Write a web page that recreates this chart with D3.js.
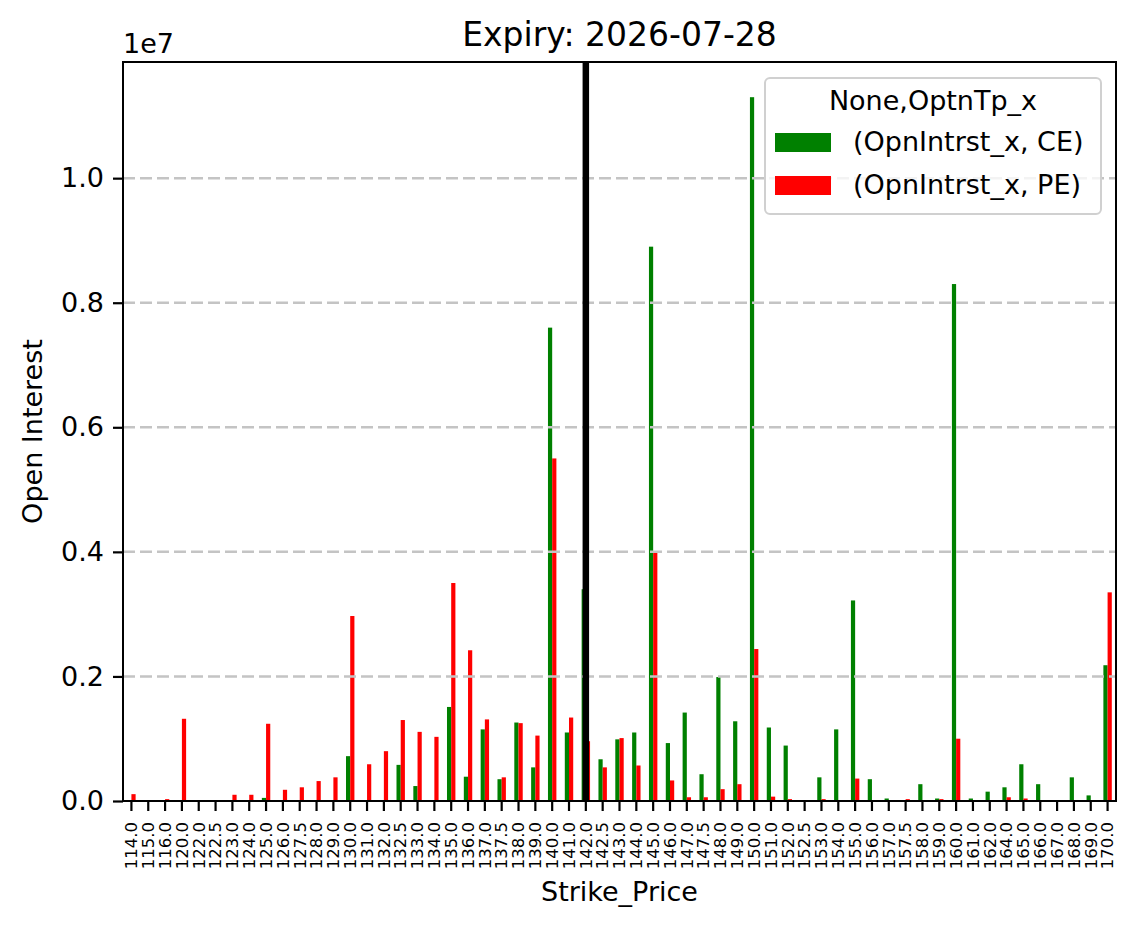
<!DOCTYPE html>
<html>
<head>
<meta charset="utf-8">
<script src="https://cdn.jsdelivr.net/npm/d3@7"></script>
<style>
  body { margin: 0; background: #fff; }
  text { font-family: "DejaVu Sans", sans-serif; fill: #000; }
</style>
</head>
<body>
<div id="container"></div>
<script>
/* DATA */
const strikes = ["114.0","115.0","116.0","120.0","122.0","122.5","123.0","124.0","125.0","126.0",
  "127.5","128.0","129.0","130.0","131.0","132.0","132.5","133.0","134.0","135.0",
  "136.0","137.0","137.5","138.0","139.0","140.0","141.0","142.0","142.5","143.0",
  "144.0","145.0","146.0","147.0","147.5","148.0","149.0","150.0","151.0","152.0",
  "152.5","153.0","154.0","155.0","156.0","157.0","157.5","158.0","159.0","160.0",
  "161.0","162.0","164.0","165.0","166.0","167.0","168.0","169.0","170.0"];

const ceOI = [0,0,0,0,0,0,0,0,50000,0,
  0,0,0,720000,0,0,580000,240000,0,1510000,
  390000,1150000,350000,1260000,540000,7600000,1100000,3400000,670000,990000,
  1100000,8900000,930000,1420000,430000,1990000,1280000,11300000,1180000,890000,
  0,380000,1150000,3220000,350000,40000,0,270000,40000,8300000,
  40000,150000,220000,590000,270000,0,380000,90000,2180000];

const peOI = [110000,0,30000,1320000,0,0,100000,100000,1240000,180000,
  220000,320000,380000,2970000,590000,800000,1300000,1110000,1030000,3500000,
  2420000,1310000,380000,1250000,1050000,5500000,1340000,960000,540000,1010000,
  570000,4000000,330000,60000,60000,190000,270000,2440000,70000,30000,
  0,30000,0,360000,0,0,30000,0,30000,1000000,
  0,0,60000,40000,0,0,0,0,3350000];

const series = ["CE", "PE"];
const seriesLabels = ["(OpnIntrst_x, CE)", "(OpnIntrst_x, PE)"];
const colors = ["green", "red"];
const yTicks = [0, 2000000, 4000000, 6000000, 8000000, 10000000];
const spotStrike = "142.0";

/* LAYOUT */
const width = 1135, height = 929,
      margin = {top: 62, left: 123, bottom: 128, right: 19};

const rows = strikes.map((s, i) => ({strike: s, CE: ceOI[i], PE: peOI[i]}));

/* SCALES */
const xScale = d3.scaleBand()
  .domain(strikes)
  .range([margin.left, width - margin.right])
  .padding(0);

const xSub = d3.scaleBand()
  .domain(series)
  .range([xScale.bandwidth() * 0.25, xScale.bandwidth() * 0.75]);

const yMax = d3.max([...ceOI, ...peOI]) * 1.05;
const yScale = d3.scaleLinear()
  .domain([0, yMax])
  .range([height - margin.bottom, margin.top]);

const colorScale = d3.scaleOrdinal().domain(series).range(colors);

/* SVG */
const svg = d3.select("#container")
  .append("svg")
  .attr("width", width)
  .attr("height", height)
  .style("background-color", "white");

// bars
const groups = svg.selectAll(".grp")
  .data(rows)
  .join("g")
  .attr("class", "grp")
  .attr("transform", d => `translate(${xScale(d.strike)},0)`);

groups.selectAll("rect")
  .data(d => series.map(k => ({key: k, value: d[k]})))
  .join("rect")
  .attr("x", d => xSub(d.key))
  .attr("width", xSub.bandwidth())
  .attr("y", d => yScale(d.value))
  .attr("height", d => yScale(0) - yScale(d.value))
  .attr("fill", d => colorScale(d.key));

// grid
svg.append("g")
  .selectAll("line")
  .data(yTicks.filter(t => t > 0))
  .join("line")
  .attr("x1", margin.left)
  .attr("x2", width - margin.right)
  .attr("y1", d => yScale(d))
  .attr("y2", d => yScale(d))
  .attr("stroke", "#c4c4c4")
  .attr("stroke-width", 2.5)
  .attr("stroke-dasharray", "12,5");

// spot line
const spotX = xScale(spotStrike) + xScale.bandwidth() / 2;
svg.append("line")
  .attr("x1", spotX).attr("x2", spotX)
  .attr("y1", margin.top).attr("y2", height - margin.bottom)
  .attr("stroke", "black")
  .attr("stroke-width", 6.5);

/* AXES */
const xAxis = d3.axisBottom(xScale).tickSize(10).tickPadding(10);
const gx = svg.append("g")
  .attr("transform", `translate(0,${height - margin.bottom})`)
  .call(xAxis);
gx.select(".domain").remove();
gx.selectAll(".tick line").attr("stroke-width", 2.2);
gx.selectAll(".tick text")
  .attr("font-size", 16.5)
  .attr("font-family", "DejaVu Sans")
  .attr("transform", "rotate(-90)")
  .attr("text-anchor", "end")
  .attr("x", -21)
  .attr("y", 0)
  .attr("dy", "0.35em");

const yAxis = d3.axisLeft(yScale)
  .tickValues(yTicks)
  .tickFormat(d => (d / 1e7).toFixed(1))
  .tickSize(10)
  .tickPadding(9);
const gy = svg.append("g")
  .attr("transform", `translate(${margin.left},0)`)
  .call(yAxis);
gy.select(".domain").remove();
gy.selectAll(".tick line").attr("stroke-width", 2.2);
gy.selectAll(".tick text")
  .attr("font-size", 27)
  .attr("font-family", "DejaVu Sans");

// frame
svg.append("rect")
  .attr("x", margin.left)
  .attr("y", margin.top)
  .attr("width", width - margin.left - margin.right)
  .attr("height", height - margin.top - margin.bottom)
  .attr("fill", "none")
  .attr("stroke", "black")
  .attr("stroke-width", 2);

/* TEXT */
svg.append("text")
  .attr("x", (margin.left + width - margin.right) / 2)
  .attr("y", 46)
  .attr("text-anchor", "middle")
  .attr("font-size", 33)
  .text("Expiry: 2026-07-28");

svg.append("text")
  .attr("x", margin.left)
  .attr("y", 53)
  .attr("font-size", 27)
  .text("1e7");

svg.append("text")
  .attr("transform", `translate(42,${(margin.top + height - margin.bottom) / 2}) rotate(-90)`)
  .attr("text-anchor", "middle")
  .attr("font-size", 27)
  .text("Open Interest");

svg.append("text")
  .attr("x", (margin.left + width - margin.right) / 2)
  .attr("y", 901)
  .attr("text-anchor", "middle")
  .attr("font-size", 27)
  .text("Strike_Price");

/* LEGEND */
const legend = svg.append("g").attr("transform", "translate(765,78)");
legend.append("rect")
  .attr("width", 336)
  .attr("height", 136)
  .attr("rx", 5)
  .attr("fill", "white")
  .attr("fill-opacity", 0.8)
  .attr("stroke", "#d0d0d0")
  .attr("stroke-width", 2);
legend.append("text")
  .attr("x", 168)
  .attr("y", 32)
  .attr("text-anchor", "middle")
  .attr("font-size", 27)
  .text("None,OptnTp_x");

const items = legend.selectAll(".item")
  .data(series)
  .join("g")
  .attr("class", "item")
  .attr("transform", (d, i) => `translate(10,${55 + i * 43})`);
items.append("rect")
  .attr("width", 56)
  .attr("height", 19)
  .attr("fill", d => colorScale(d));
items.append("text")
  .attr("x", 78)
  .attr("y", 18)
  .attr("font-size", 27)
  .text((d, i) => seriesLabels[i]);
</script>
</body>
</html>
